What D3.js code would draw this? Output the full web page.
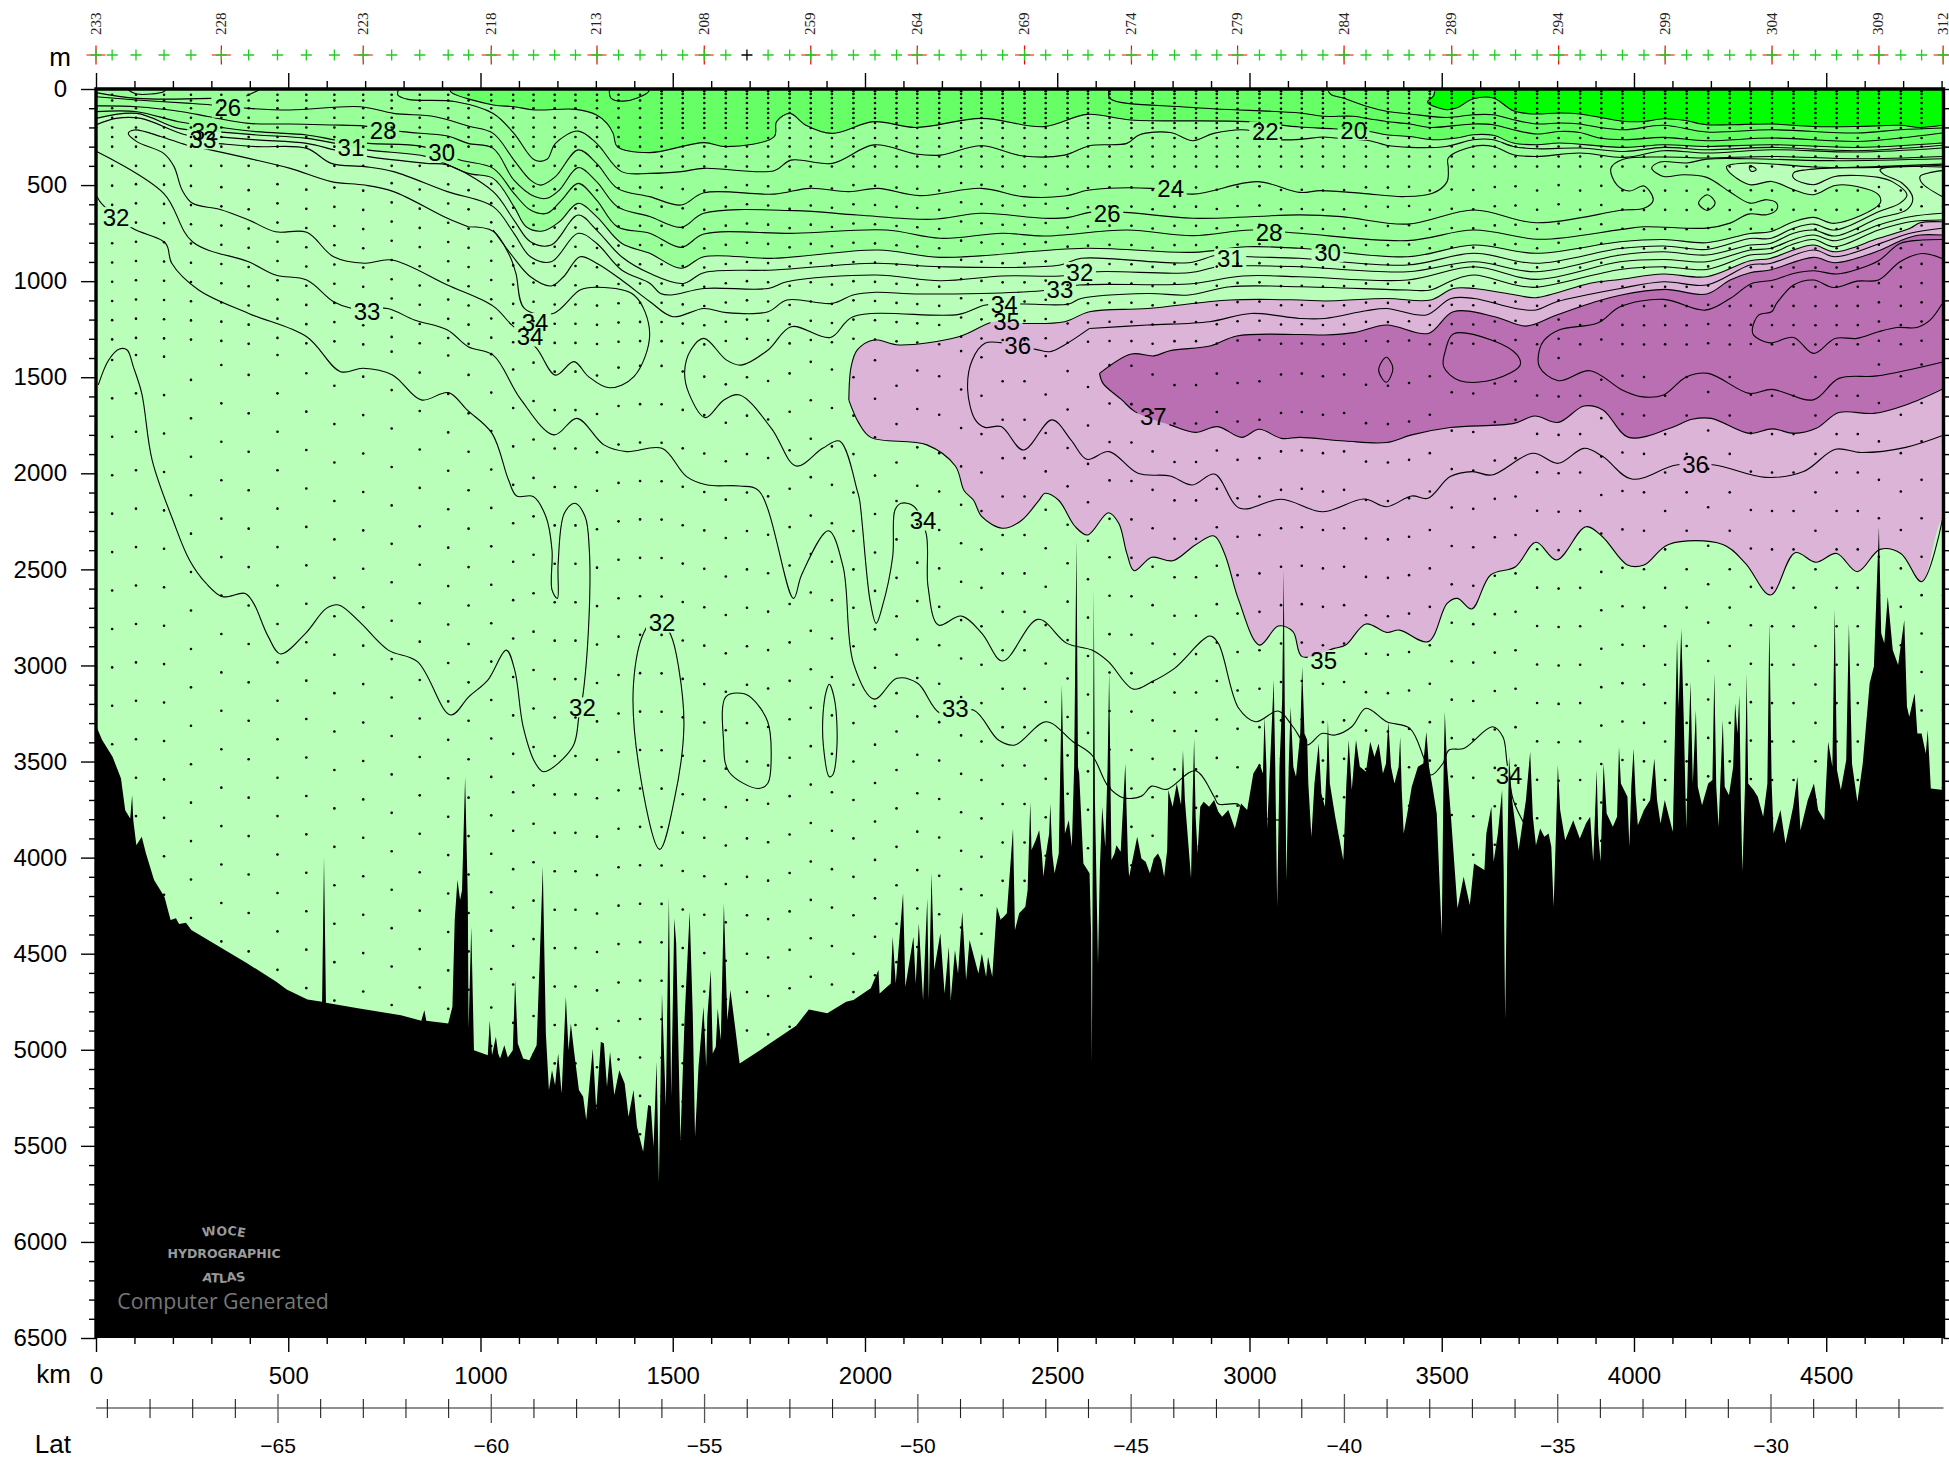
<!DOCTYPE html>
<html lang="en">
<head>
<meta charset="UTF-8">
<title>WOCE section</title>
<script src="https://d3js.org/d3.v7.min.js"></script>
<style>
    html, body { margin: 0; padding: 0; background: #fff; }
    svg { display: block; font-family: "Liberation Sans", Arial, sans-serif; }
    .contour { fill: none; stroke: #000; stroke-width: 1.1; stroke-linejoin: round; }
    .axis path, .axis line { stroke: #000; }
    .axis text { font-size: 24px; font-family: "Liberation Sans", Arial, sans-serif; fill: #000; }
    .clabel { font-size: 24px; text-anchor: middle; fill: #000; }
</style>
</head>
<body>
<svg width="1949" height="1458"></svg>
<script>
// ---- stations along the section (km) ----
var stationKm = [0,42,104,177,247,326,397,472,547,620,695,769,842,916,969,1028,1085,1138,1193,1247,1303,1359,1415,
    1471,1526,1582,1638,1693,1748,1804,1859,1914,1970,2026,2082,2136,2193,2250,2303,2358,2415,2470,2527,2580,2636,2693,2748,2805,2861,2915,2969,3026,3082,
    3136,3191,3246,3303,3360,3415,3469,3526,3582,3638,3692,3748,3804,3860,3915,3970,4026,4081,4137,4193,4249,4304,4359,4415,4472,4527,4582,4637,4694,4748,4804];
var stationNames = ['233','228','223','218','213','208','259','264','269','274','279','284','289','294','299','304','309','312'];
var namedStations = [0,5,10,15,20,25,30,35,40,45,50,55,60,65,70,75,80,83];
var blackStation = 27;

// sample depths of each cast
var castOffset = [10,10,-16,-7,114,36,88,-16,79,144,97,-33,76,-13,88,-20,60,24,71,71,91,50,40,
    41,70,97,137,100,120,80,20,60,100,12,144,65,95,-36,-4,121,121,-10,68,151,37,40,86,141,141,81,130,121,86,
    81,95,86,139,144,130,95,178,185,133,121,195,0,196,113,92,99,196,99,177,99,191,196,196,99,196,196,34,95,34,34];
var shallowSouth = [30,60,100,150,200,250,300,400];
var shallowNorth = [12,26,47,73,103,125,151,177,203,255,299,351,403];
var midLevels = [500,600,700,800,900,1000,1100,1200,1300];
var deepLevels = [1400,1600,1800,2000,2200,2400,2600,2800,3000,3200,3400,3600,3800,4000,4200,4400,4600,4800,5000,5200,5400];

// ---- filled regions: [km, depth] ----
var brightGreen = [[3482,12],[3478,38],[3463,68],[3512,108],[3538,99],[3582,51],[3634,47],[3686,113],[3738,130],[3807,125],[3859,130],[3976,169],[4025,169],[4077,155],[4129,163],[4189,186],[4250,186],[4358,182],[4467,195],[4580,195],[4692,189],[4744,200],[4801,189]];
var lavenderTop = [[1958,1619],[1964,1445],[1980,1358],[2023,1306],[2088,1332],[2244,1289],[2336,1211],[2417,1220],[2519,1211],[2584,1159],[2735,1142],[2950,1098],[3131,1098],[3196,1103],[3357,1090],[3471,1098],[3530,1038],[3584,1038],[3692,1072],[3745,1086],[3886,1011],[3964,991],[4077,963],[4189,977],[4302,894],[4354,882],[4415,838],[4467,812],[4523,847],[4636,777],[4718,725],[4744,696],[4801,691]];
var lavenderBottom = [[1958,1619],[1983,1735],[2015,1813],[2161,1852],[2235,1962],[2258,2091],[2282,2139],[2304,2226],[2358,2286],[2406,2247],[2453,2139],[2468,2104],[2503,2139],[2547,2278],[2579,2321],[2633,2205],[2660,2260],[2681,2417],[2700,2507],[2746,2437],[2800,2455],[2859,2373],[2908,2326],[2935,2417],[2972,2660],[3026,2894],[3075,2795],[3113,2824],[3137,2954],[3220,2911],[3250,2894],[3303,2784],[3357,2828],[3390,2816],[3465,2876],[3514,2677],[3541,2651],[3578,2706],[3627,2529],[3692,2486],[3745,2359],[3799,2451],[3875,2278],[3918,2330],[3983,2477],[4026,2477],[4090,2370],[4231,2370],[4290,2469],[4355,2633],[4419,2413],[4473,2463],[4527,2417],[4581,2512],[4640,2396],[4694,2417],[4748,2564],[4802,2243]];
var purpleTop = [[2610,1480],[2693,1379],[2751,1389],[2793,1362],[2900,1336],[2967,1285],[3132,1278],[3196,1280],[3271,1268],[3357,1228],[3465,1272],[3530,1159],[3638,1185],[3719,1234],[3799,1176],[3886,1116],[3964,1073],[4081,1043],[4189,1067],[4250,994],[4302,956],[4354,942],[4467,876],[4523,904],[4636,842],[4701,783],[4744,760],[4801,760]];
var purpleBottom = [[2610,1480],[2619,1532],[2668,1618],[2702,1679],[2793,1748],[2859,1787],[2917,1757],[2980,1813],[3025,1771],[3083,1818],[3132,1813],[3248,1832],[3356,1840],[3422,1800],[3522,1762],[3687,1740],[3742,1702],[3803,1735],[3870,1650],[3919,1670],[3986,1813],[4093,1766],[4151,1719],[4201,1714],[4300,1792],[4359,1769],[4417,1792],[4474,1766],[4533,1684],[4624,1688],[4707,1644],[4806,1558]];

// ---- contour lines: [km, depth] ----
var contourZ1 = [[3205,12],[3213,30],[3244,47],[3304,90],[3356,116],[3417,130],[3512,148],[3582,134],[3634,134],[3686,160],[3747,182],[3807,177],[3859,182],[3911,200],[3976,212],[4077,189],[4189,224],[4358,212],[4580,229],[4692,212],[4801,203]];
var contourZ2 = [[2635,5],[2637,49],[2842,95],[3131,125],[3192,142],[3270,142],[3313,156],[3356,169],[3417,182],[3469,200],[3582,182],[3634,186],[3686,212],[3747,234],[3807,221],[3859,226],[3911,255],[3976,264],[4077,252],[4189,269],[4358,255],[4580,273],[4692,255],[4801,229]];
var contourA = [[920,2],[925,19],[1033,83],[1087,92],[1141,109],[1248,106],[1302,135],[1329,179],[1345,231],[1356,300],[1440,331],[1581,279],[1640,300],[1764,248],[1770,170],[1805,127],[1845,187],[1915,231],[2023,170],[2131,200],[2303,153],[2465,196],[2578,132],[2691,161],[2993,170],[3131,198],[3218,207],[3313,221],[3356,238],[3417,247],[3478,264],[3538,255],[3582,238],[3634,241],[3686,281],[3747,290],[3807,281],[3976,304],[4077,290],[4189,299],[4358,290],[4580,304],[4801,281]];
var contourB = [[787,2],[785,31],[812,54],[936,66],[1033,127],[1087,231],[1141,370],[1173,366],[1195,283],[1254,219],[1302,283],[1367,430],[1440,439],[1522,430],[1581,413],[1764,425],[1807,370],[1915,387],[2023,291],[2131,338],[2196,344],[2303,295],[2411,349],[2519,344],[2584,295],[2681,283],[2713,239],[2794,226],[2853,269],[2907,231],[2993,213],[3074,262],[3131,262],[3192,250],[3222,255],[3313,269],[3356,293],[3417,304],[3512,299],[3582,264],[3634,264],[3686,299],[3747,311],[3859,307],[3976,325],[4077,304],[4189,316],[4358,304],[4580,321],[4801,293]];
var contourC = [[0,40],[106,57],[246,75],[300,83],[397,101],[505,109],[688,92],[774,127],[882,144],[968,193],[1033,231],[1087,370],[1130,474],[1157,500],[1195,456],[1254,317],[1302,387],[1356,517],[1440,560],[1522,604],[1581,540],[1764,547],[1856,517],[1958,534],[2034,517],[2142,555],[2303,517],[2411,560],[2519,557],[2584,526],[2745,517],[2853,547],[3020,482],[3131,538],[3185,529],[3293,543],[3400,560],[3476,543],[3514,482],[3517,411],[3517,359],[3582,299],[3634,299],[3686,342],[3747,351],[3859,333],[3976,356],[4077,321],[4189,333],[4358,316],[4580,328],[4801,307]];
var contourD = [[0,88],[106,92],[224,118],[294,144],[397,179],[505,182],[612,187],[699,193],[796,222],[914,245],[968,283],[1033,309],[1087,474],[1141,560],[1173,569],[1205,526],[1254,409],[1302,482],[1356,612],[1440,664],[1522,720],[1581,647],[1818,633],[1980,656],[2174,678],[2303,647],[2465,673],[2530,668],[2584,642],[2675,642],[2853,673],[3131,655],[3239,664],[3411,703],[3584,630],[3745,696],[3972,630],[4026,621],[4050,578],[4026,505],[3988,531],[3956,500],[3940,413],[3972,366],[4077,354],[4189,359],[4358,351],[4580,363],[4801,351]];
var contourE = [[0,118],[106,118],[214,170],[311,196],[418,222],[548,239],[623,265],[709,283],[850,300],[947,370],[1033,413],[1087,543],[1130,630],[1173,647],[1211,578],[1254,491],[1302,578],[1356,717],[1440,751],[1522,824],[1581,755],[1818,751],[2055,734],[2196,777],[2357,751],[2465,765],[2681,734],[2853,763],[3004,734],[3131,751],[3411,789],[3584,734],[3756,782],[3964,732],[4026,717],[4189,724],[4250,698],[4298,651],[4345,654],[4371,628],[4371,594],[4345,576],[4302,594],[4250,536],[4189,460],[4129,446],[4077,455],[4046,411],[4068,380],[4137,385],[4189,365],[4302,363],[4519,373],[4801,363]];
var contourF = [[0,153],[106,127],[214,205],[311,222],[418,239],[548,257],[623,283],[709,318],[860,352],[968,439],[1033,465],[1087,612],[1119,717],[1162,739],[1205,691],[1254,595],[1302,664],[1367,803],[1440,855],[1522,933],[1581,873],[1764,881],[2034,838],[2196,876],[2573,829],[2853,850],[2993,821],[3131,829],[3411,873],[3584,812],[3745,855],[3964,795],[4077,783],[4189,800],[4302,752],[4354,743],[4415,691],[4467,668],[4523,699],[4640,595],[4636,550],[4580,507],[4523,502],[4467,550],[4415,524],[4358,481],[4302,498],[4246,429],[4241,403],[4302,385],[4467,406],[4632,408],[4801,397]];
var contourG = [[0,187],[52,153],[117,153],[235,239],[311,248],[418,265],[548,283],[623,318],[709,352],[860,387],[914,396],[1033,534],[1087,682],[1130,795],[1184,812],[1254,656],[1302,734],[1367,873],[1440,959],[1527,1012],[1581,956],[1764,942],[2028,907],[2196,925],[2508,916],[2562,881],[2842,904],[2918,864],[3004,873],[3131,881],[3411,916],[3584,855],[3745,907],[3964,830],[4077,817],[4189,835],[4302,778],[4354,778],[4415,725],[4467,703],[4523,734],[4636,639],[4692,594],[4710,550],[4675,486],[4636,460],[4523,455],[4467,498],[4415,463],[4415,437],[4450,420],[4632,404],[4801,391]];
var contourH = [[257,274],[311,283],[418,300],[548,309],[612,387],[699,404],[774,430],[914,534],[1033,612],[1087,751],[1130,873],[1184,899],[1254,751],[1302,803],[1367,942],[1441,1012],[1468,1064],[1495,1072],[1581,1038],[1748,1038],[1797,1003],[2028,968],[2196,998],[2357,973],[2508,973],[2605,951],[2842,956],[2918,925],[3004,920],[3131,925],[3411,951],[3584,899],[3745,951],[3964,864],[4077,847],[4189,864],[4302,812],[4354,804],[4415,751],[4467,734],[4523,765],[4636,673],[4710,628],[4725,568],[4697,489],[4649,443],[4640,420],[4666,406],[4801,406]];
var contourCrest = [[1033,734],[1081,864],[1130,977],[1184,1025],[1216,977],[1259,873],[1302,907],[1367,994],[1441,1107],[1500,1185],[1581,1142],[1640,1164],[1748,1159],[1797,1098],[1915,1116],[1969,1072],[2028,1058],[2142,1067],[2460,1050],[2557,1020],[2842,1015],[2983,973],[3131,977],[3411,994],[3584,925],[3745,991],[3964,899],[4077,887],[4189,899],[4302,838],[4354,830],[4415,783],[4467,760],[4523,790],[4636,708],[4718,665],[4801,647]];
// runs back along the slope, round the tip near the ice edge and through the loop at 1200 km
var contourTip = [[968,717],[1033,740],[1075,864],[1092,959],[1114,1142],[1189,1168],[1259,1046],[1302,1032],[1399,1072],[1440,1272],[1399,1497],[1335,1555],[1281,1497],[1243,1419],[1195,1489],[1146,1350],[1081,1228],[1033,1130],[914,1020],[769,890],[699,907],[618,873],[548,746],[467,743],[397,682],[321,626],[251,595],[224,526],[203,404],[176,335],[106,274],[84,231],[100,213],[170,248],[235,291],[300,318],[397,361],[505,413],[612,482],[699,500],[774,534],[914,673],[968,717]];
var contourMain = [[3,326],[176,543],[251,795],[397,899],[467,968],[548,994],[618,1107],[666,1142],[758,1142],[828,1202],[914,1254],[968,1341],[1033,1385],[1103,1610],[1191,1800],[1251,1714],[1321,1852],[1380,1887],[1472,1870],[1536,2017],[1590,2061],[1674,2066],[1724,2091],[1814,2651],[1835,2529],[1905,2299],[1943,2486],[1970,2989],[2024,3175],[2083,3067],[2137,3093],[2196,3249],[2282,3232],[2347,3388],[2390,3414],[2471,3293],[2541,3397],[2590,3466],[2633,3631],[2671,3688],[2719,3680],[2746,3628],[2784,3645],[2859,3548],[2908,3683],[2919,3721],[2972,3723],[2983,3770],[3080,3805]];
var contourBump = [[6,1540],[33,1410],[61,1353],[81,1358],[97,1445],[119,1584],[146,1931],[200,2243],[243,2451],[286,2572],[329,2642],[388,2625],[410,2677],[448,2850],[480,2940],[545,2833],[599,2703],[631,2685],[685,2772],[760,2920],[836,2980],[922,3258],[970,3162],[1019,3076],[1067,2920],[1089,3024],[1111,3319],[1143,3509],[1164,3553],[1240,3423],[1256,3267],[1267,3145],[1283,2711],[1283,2399],[1272,2225],[1245,2156],[1218,2208],[1202,2468],[1200,2651],[1186,2607],[1186,2399],[1170,2225],[1137,2121],[1094,2118],[1073,2035],[1030,1792],[965,1670],[917,1580],[846,1618],[771,1488],[695,1453],[636,1471],[548,1289],[397,1168],[267,1046],[197,907],[181,803],[95,725],[14,595],[3,560]];
var contourLong = [[3719,3839],[3686,3700],[3670,3510],[3659,3371],[3632,3319],[3557,3432],[3519,3440],[3503,3510],[3471,3570],[3454,3484],[3417,3327],[3357,3293],[3303,3223],[3266,3319],[3223,3362],[3188,3354],[3150,3414],[3113,3319],[3075,3237],[3016,3293],[2972,3223],[2919,2885],[2897,2847],[2805,3015],[2746,3085],[2698,3123],[2633,2980],[2590,2920],[2525,2885],[2450,2760],[2358,2977],[2304,2833],[2250,2743],[2191,2790],[2164,2590],[2159,2313],[2126,2170],[2094,2156],[2078,2191],[2072,2434],[2045,2694],[2029,2781],[2013,2660],[1986,2139],[1980,2091],[1934,1832],[1890,1870],[1821,1962],[1757,1767],[1674,1592],[1633,1618],[1585,1710],[1542,1584],[1531,1471],[1547,1358],[1581,1298],[1640,1411],[1678,1437],[1748,1358],[1808,1237],[1910,1293],[1969,1185],[2244,1173],[2314,1124],[2411,1119],[2530,1119],[2562,1090],[2735,1064],[2842,1072],[2950,1029],[3131,1029],[3411,1046],[3471,1046],[3530,994],[3584,968],[3692,1020],[3745,1032],[3964,939],[4077,925],[4189,939],[4302,864],[4354,856],[4415,807],[4467,783],[4523,821],[4636,734],[4718,691],[4801,682]];
var contour36 = [[2584,1246],[2519,1332],[2481,1367],[2444,1355],[2352,1320],[2312,1323],[2279,1410],[2267,1566],[2287,1722],[2312,1761],[2354,1757],[2412,1879],[2486,1722],[2536,1827],[2577,1927],[2635,1887],[2710,2000],[2793,2014],[2851,2061],[2909,2004],[2975,2182],[3083,2135],[3190,2200],[3298,2134],[3356,2174],[3422,2118],[3464,2130],[3522,2017],[3580,1991],[3630,2009],[3737,1896],[3803,1948],[3870,1870],[3919,1913],[3994,2030],[4110,1957],[4210,1957],[4342,2021],[4441,1991],[4524,1875],[4591,1892],[4707,1865],[4806,1801]];
var contour35Upper = [[2584,1246],[2735,1228],[2896,1211],[3004,1168],[3131,1194],[3196,1194],[3303,1154],[3357,1142],[3460,1176],[3524,1090],[3584,1090],[3692,1142],[3745,1150],[3799,1107],[3964,1038],[4077,1003],[4189,1020],[4302,916],[4354,908],[4467,838],[4523,873],[4636,807],[4718,751],[4801,725]];
var contourInner = [[4806,1419],[4632,1493],[4533,1506],[4466,1618],[4359,1563],[4300,1584],[4193,1480],[4135,1500],[4077,1592],[4019,1601],[3969,1566],[3886,1466],[3803,1518],[3754,1445],[3754,1358],[3767,1306],[3805,1254],[3907,1216],[3964,1133],[4077,1095],[4185,1151],[4250,1090],[4306,1012],[4363,994],[4415,960],[4467,946],[4528,963],[4588,934],[4636,894],[4692,804],[4749,786],[4801,783]];
var contourCore = [[4801,882],[4749,856],[4692,899],[4636,994],[4580,1000],[4519,1033],[4467,994],[4415,1020],[4371,1116],[4358,1159],[4324,1177],[4308,1246],[4311,1281],[4354,1321],[4415,1293],[4467,1376],[4523,1298],[4580,1298],[4636,1263],[4684,1241],[4736,1241],[4770,1203],[4801,1119]];
var contourRightCurl = [[4801,559],[4749,489],[4744,455],[4766,437],[4801,425]];
var contourTopA = [[0,19],[106,49],[300,49]];
var contourTopB = [[84,5],[106,26],[176,14],[183,0]];
var contourTopC = [[391,36],[424,5]];
var contourTopD = [[1335,5],[1340,49],[1378,62],[1432,23],[1440,5]];
var openContours = [contourZ1,contourZ2,contourA,contourB,contourC,contourD,contourE,contourF,contourG,contourH,contourCrest,contourTip,contourMain,contourBump,contourLong,contour36,contour35Upper,contourInner,contourCore,contourRightCurl,contourTopA,contourTopB,contourTopC,contourTopD,brightGreen,lavenderTop,lavenderBottom,purpleTop,purpleBottom];

// closed contours
var loopOval = [[1461,2746],[1495,2841],[1515,3006],[1529,3319],[1504,3700],[1466,3957],[1412,3527],[1398,3093],[1426,2824]];
var loopBlob = [[1638,3163],[1679,3145],[1706,3171],[1747,3293],[1756,3475],[1747,3614],[1722,3640],[1646,3553],[1632,3388]];
var loopThin = [[1907,3098],[1921,3180],[1927,3423],[1916,3570],[1907,3579],[1892,3423],[1891,3249],[1900,3128]];
var loopCoreA = [[3356,1396],[3373,1454],[3356,1526],[3336,1462]];
var loopCoreB = [[3530,1275],[3629,1306],[3696,1384],[3704,1436],[3638,1511],[3547,1518],[3505,1445],[3510,1358]];
var loopSmallA = [[4191,550],[4211,594],[4191,632],[4168,594]];
var loopSmallB = [[4302,398],[4318,420],[4306,429],[4300,411]];
var closedContours = [loopOval,loopBlob,loopThin,loopCoreA,loopCoreB,loopSmallA,loopSmallB];

// ---- contour labels: [text, km, depth] ----
var contourLabels = [['26',343,97],['28',747,214],['31',663,304],['30',899,330],['22',3041,220],['20',3271,214],['24',2795,518],['26',2630,647],['28',3051,744],['30',3203,848],
    ['32',284,222],['33',278,262],['32',52,667],['33',705,1159],['34',1129,1288],['34',1142,1217],['31',2950,880],['32',2559,952],['33',2507,1042],['34',2362,1120],['35',2368,1211],['34',2151,2246],['32',1472,2777],['32',1265,3218],['33',2235,3224],['35',3193,2972],
    ['36',2397,1334],['37',2750,1703],['36',4160,1955],['34',3675,3574]];

// ---- sea floor: [km, depth] ----
var bathymetry = [[0,3320],[3,3327],[16,3388],[43,3475],[65,3588],[76,3753],[89,3796],[94,3674],[97,3805],[105,3935],[119,3891],[130,3978],[151,4117],[178,4204],[194,4325],[208,4316],[216,4346],[234,4339],[248,4377],[394,4551],[469,4646],[496,4686],[550,4738],[588,4750],[593,3995],[598,4755],[685,4785],[793,4820],[846,4849],[854,4794],[859,4849],[916,4863],[927,4776],[933,4325],[940,4117],[947,4221],[952,4169],[960,3579],[967,4221],[969,4889],[976,4360],[983,5002],[1019,5028],[1024,4846],[1030,5028],[1040,4932],[1046,5019],[1051,5045],[1062,4976],[1071,5040],[1084,5002],[1090,4637],[1097,4967],[1111,5045],[1127,5054],[1146,4976],[1154,4533],[1162,4047],[1170,4915],[1178,5210],[1186,5106],[1194,5184],[1202,5019],[1211,5227],[1222,4724],[1229,5002],[1235,4863],[1243,5002],[1256,5210],[1267,5245],[1275,5366],[1292,4993],[1301,5314],[1313,4958],[1321,4967],[1329,5193],[1337,5010],[1348,5236],[1361,5106],[1375,5175],[1385,5349],[1398,5210],[1407,5401],[1423,5531],[1436,5288],[1443,5293],[1450,5505],[1458,5062],[1464,5687],[1472,4707],[1482,5297],[1490,4204],[1496,5245],[1504,4316],[1509,4447],[1520,5470],[1531,4828],[1544,4282],[1552,4811],[1558,5453],[1567,5088],[1580,4776],[1587,5088],[1590,4828],[1599,4585],[1604,5019],[1612,4984],[1617,4785],[1625,4950],[1633,4238],[1642,4846],[1650,4689],[1660,4846],[1674,5071],[1725,5005],[1821,4875],[1854,4790],[1902,4810],[1951,4750],[1970,4741],[2015,4680],[2035,4585],[2038,4707],[2067,4655],[2072,4412],[2080,4655],[2099,4186],[2105,4672],[2126,4412],[2132,4655],[2140,4342],[2151,4741],[2162,4212],[2166,4741],[2173,4082],[2180,4585],[2196,4394],[2207,4707],[2218,4464],[2223,4741],[2234,4481],[2242,4603],[2253,4282],[2263,4637],[2272,4429],[2295,4603],[2304,4499],[2315,4620],[2320,4516],[2331,4620],[2339,4377],[2343,4256],[2353,4325],[2369,4290],[2385,3848],[2390,4377],[2401,4290],[2417,4256],
    [2423,4169],[2426,3961],[2430,3709],[2433,3961],[2444,3909],[2453,3857],[2460,3978],[2464,4100],[2471,3978],[2479,3874],[2482,3718],[2487,3978],[2493,4082],[2504,3978],[2508,3527],[2512,3102],[2516,3527],[2520,3874],[2530,3805],[2538,3943],[2544,3527],[2550,2347],[2554,3527],[2557,3562],[2568,4030],[2584,4082],[2588,4394],[2590,5070],[2593,3700],[2595,2599],[2598,3700],[2606,4551],[2611,4047],[2617,3735],[2625,3943],[2631,3527],[2635,3033],[2638,3527],[2641,4012],
    [2649,3978],[2654,3935],[2665,3969],[2677,3510],[2684,4013],[2687,4100],[2694,4030],[2708,3891],[2719,4004],[2730,4021],[2741,4082],[2751,4004],[2762,3978],[2770,4013],[2778,4100],[2786,3961],[2789,3648],[2800,3735],[2811,3614],[2822,3726],[2827,3440],[2832,3700],[2848,4108],[2852,3700],[2856,3380],[2860,3787],[2865,3978],[2872,3735],[2881,3709],[2895,3735],[2908,3700],[2919,3761],[2929,3787],[2945,3752],[2962,3848],[2978,3718],[2994,3752],[3010,3562],[3026,3510],[3035,3562],[3039,3267],[3044,3527],[3046,3848],[3054,3492],[3063,3076],[3067,3527],[3072,4256],[3078,3527],[3085,3180],[3089,2503],[3093,3527],[3096,4117],[3102,3527],[3107,3215],[3114,3527],[3121,3579],[3132,3354],[3137,3006],[3143,3354],[3150,3388],
    [3153,3614],[3161,3891],[3169,3614],[3180,3406],[3187,3666],[3196,3735],[3201,3527],[3204,3284],[3209,3614],[3223,3787],[3244,4013],[3252,3614],[3258,3388],[3266,3648],[3271,3527],[3277,3388],[3287,3527],[3303,3553],[3314,3397],[3325,3475],[3336,3406],[3347,3562],[3355,3510],[3361,3293],[3368,3527],[3377,3614],[3388,3527],[3392,3371],[3396,3648],[3401,3874],[3409,3787],[3422,3631],[3438,3527],[3452,3510],[3460,3345],[3467,3527],[3476,3631],[3487,3770],[3500,4403],[3505,3527],[3508,3241],[3514,3527],[3524,3787],[3541,4264],[3557,4100],[3573,4247],[3584,4030],[3611,4065],[3616,3874],[3629,3735],[3635,4021],[3646,3874],[3657,3648],[3661,4047],[3665,4842],[3670,4047],[3675,3475],[3683,3700],[3692,3839],
    [3700,3961],[3719,3700],[3730,3449],[3737,3787],[3745,3935],[3756,3848],[3767,3891],[3778,3874],[3785,3943],[3791,4256],[3797,3874],[3802,3518],[3808,3752],[3821,3909],[3842,3805],[3859,3900],[3875,3822],[3886,3787],[3894,4021],[3903,3544],[3907,3874],[3913,4021],[3921,3510],[3929,3770],[3945,3839],[3956,3787],[3961,3423],[3966,3614],[3983,3683],[3988,3943],[3993,3631],[3999,3432],[4004,3666],[4010,3831],[4026,3752],[4042,3700],[4053,3484],[4060,3700],[4069,3822],
    [4080,3700],[4101,3865],[4108,3232],[4112,2859],[4116,3223],[4123,2807],[4129,3249],[4136,3848],[4140,3527],[4147,3085],[4153,3614],[4161,3232],[4166,3631],[4177,3727],[4193,3614],[4204,3596],[4209,3041],[4214,3631],[4220,3839],[4231,3284],[4236,3631],[4247,3675],[4258,3527],[4263,3197],[4269,3354],[4274,3154],[4278,3700],[4282,4074],[4289,3614],[4293,3041],[4297,3614],[4311,3648],[4322,3683],[4336,3787],[4347,3614],[4352,2772],[4358,3614],[4363,3874],[4381,3752],[4394,3926],[4414,3735],[4425,3579],[4433,3857],[4452,3700],[4468,3614],[4479,3752],[4495,3805],[4505,3397],[4516,3527],[4522,2703],[4528,3544],[4538,3648],[4552,3492],[4559,2781],[4567,3510],[4581,3709],[4595,3510],[4613,3093],[4624,3006],[4637,2278],[4643,2833],[4651,2885],[4660,2642],[4673,2920],[4687,2998],[4703,2764],[4710,3215],[4716,3267],[4730,3145],[4737,3354],[4748,3354],[4759,3458],[4764,3336],[4772,3640],[4805,3648]];

// ---- axes ----
var kmMajor = [0,500,1000,1500,2000,2500,3000,3500,4000,4500];
var kmMinor = [100,200,300,400,600,700,800,900,1100,1200,1300,1400,1600,1700,1800,1900,2100,2200,2300,2400,2600,2700,2800,2900,3100,3200,3300,3400,3600,3700,3800,3900,4100,4200,4300,4400,4600,4700,4800];
var depthMajor = [0,500,1000,1500,2000,2500,3000,3500,4000,4500,5000,5500,6000,6500];
var depthMinor = [100,200,300,400,600,700,800,900,1100,1200,1300,1400,1600,1700,1800,1900,2100,2200,2300,2400,2600,2700,2800,2900,3100,3200,3300,3400,3600,3700,3800,3900,4100,4200,4300,4400,4600,4700,4800,4900,5100,5200,5300,5400,5600,5700,5800,5900,6100,6200,6300,6400];
var latMajor = [-65,-60,-55,-50,-45,-40,-35,-30];
var latMinor = [-69,-68,-67,-66,-64,-63,-62,-61,-59,-58,-57,-56,-54,-53,-52,-51,-49,-48,-47,-46,-44,-43,-42,-41,-39,-38,-37,-36,-34,-33,-32,-31,-29,-28,-27];

var svg = d3.select('svg');

var x = d3.scaleLinear().domain([0, 4805]).range([96, 1943.5]);
var y = d3.scaleLinear().domain([0, 6500]).range([89, 1338]);
var lat = d3.scaleLinear().domain([-65, -30]).range([278, 1771]);

var defs = svg.append('defs');
defs.append('clipPath').attr('id', 'plot')
    .append('rect')
    .attr('x', x(0)).attr('y', y(0))
    .attr('width', x(4805) - x(0)).attr('height', y(6500) - y(0));

// the contour lines break around their labels
var gapMask = defs.append('mask').attr('id', 'labelGaps')
    .attr('maskUnits', 'userSpaceOnUse')
    .attr('x', 0).attr('y', 0).attr('width', 1949).attr('height', 1458);
gapMask.append('rect').attr('width', 1949).attr('height', 1458).attr('fill', '#fff');
gapMask.selectAll('rect.gap').data(contourLabels).enter().append('rect')
    .attr('class', 'gap')
    .attr('x', function (d) { return x(d[1]) - 16; })
    .attr('y', function (d) { return y(d[2]) - 10; })
    .attr('width', 32).attr('height', 20)
    .attr('fill', '#000');

var curve = d3.curveCatmullRom.alpha(0.5);
var line = d3.line().x(function (d) { return x(d[0]); }).y(function (d) { return y(d[1]); }).curve(curve);
var loop = d3.line().x(function (d) { return x(d[0]); }).y(function (d) { return y(d[1]); }).curve(d3.curveCatmullRomClosed.alpha(0.5));

var g = svg.append('g').attr('clip-path', 'url(#plot)');

// background and filled bands
g.append('rect').attr('x', x(0)).attr('y', y(0))
    .attr('width', x(4805) - x(0)).attr('height', y(6500) - y(0))
    .attr('fill', '#b9ffb9');

var right = 4830, top0 = -60;

function band(points, color) {
    g.append('path').attr('d', line(points)).attr('fill', color).attr('stroke', 'none');
}

band([[0, top0], [-30, top0], [-30, 153]].concat(contourF).concat([[right, 397], [right, top0]]), '#99ff99');
band(contourA.concat([[right, 281], [right, top0], [920, top0]]), '#66ff66');
band(brightGreen.concat([[right, 189], [right, top0], [3482, top0]]), '#00ff00');
band(lavenderTop.concat([[right, 691], [right, 2243]]).concat(lavenderBottom.slice().reverse()), '#dbb4d8');
band(purpleTop.concat([[right, 760], [right, 1558]]).concat(purpleBottom.slice().reverse()), '#b96fb1');

// contour lines
var lines = g.append('g').attr('mask', 'url(#labelGaps)');
lines.selectAll('path.contour.open').data(openContours).enter().append('path')
    .attr('class', 'contour open').attr('d', line);
lines.selectAll('path.contour.closed').data(closedContours).enter().append('path')
    .attr('class', 'contour closed').attr('d', loop);

// sample dots
var samples = [];
stationKm.forEach(function (km, i) {
    var shallow = i < 23 ? shallowSouth : shallowNorth;
    shallow.forEach(function (d) { samples.push([km, d]); });
    midLevels.forEach(function (d) { samples.push([km, d + (castOffset[i] % 100) * 0.3]); });
    deepLevels.forEach(function (d) { samples.push([km, d + castOffset[i]]); });
});
g.selectAll('circle.sample').data(samples).enter().append('circle')
    .attr('class', 'sample')
    .attr('cx', function (d) { return x(d[0]); })
    .attr('cy', function (d) { return y(d[1]); })
    .attr('r', 1.3).attr('fill', '#000');

// sea floor
var floor = d3.area()
    .x(function (d) { return x(d[0]); })
    .y0(y(6500) + 5)
    .y1(function (d) { return y(d[1]); });
g.append('path').attr('d', floor(bathymetry)).attr('fill', '#000');

// contour labels
svg.selectAll('text.clabel').data(contourLabels).enter().append('text')
    .attr('class', 'clabel')
    .attr('x', function (d) { return x(d[1]); })
    .attr('y', function (d) { return y(d[2]); })
    .attr('dy', '0.36em')
    .text(function (d) { return d[0]; });

// depth axis
var leftMinor = d3.axisLeft(y).tickValues(depthMinor).tickSize(7).tickFormat('');
var leftMajor = d3.axisLeft(y).tickValues(depthMajor).tickSize(15).tickPadding(14).tickFormat(d3.format('d'));
var rightMinor = d3.axisRight(y).tickValues(depthMinor.concat(depthMajor)).tickSize(6).tickFormat('');
var topMinor = d3.axisTop(x).tickValues(kmMinor).tickSize(8).tickFormat('');
var topMajor = d3.axisTop(x).tickValues(kmMajor).tickSize(16).tickFormat('');
var bottomMinor = d3.axisBottom(x).tickValues(kmMinor).tickSize(6).tickFormat('');
var bottomMajor = d3.axisBottom(x).tickValues(kmMajor).tickSize(14).tickPadding(15).tickFormat(d3.format('d'));

function addAxis(axis, tx, ty) {
    var a = svg.append('g').attr('class', 'axis')
        .attr('transform', 'translate(' + tx + ',' + ty + ')')
        .call(axis);
    a.select('.domain').remove();
    a.selectAll('line').attr('stroke-width', 1.4);
    return a;
}
addAxis(leftMinor, x(0), 0);
addAxis(leftMajor, x(0), 0);
addAxis(rightMinor, x(4805), 0);
addAxis(topMinor, 0, y(0));
addAxis(topMajor, 0, y(0));
addAxis(bottomMinor, 0, y(6500));
addAxis(bottomMajor, 0, y(6500));

svg.append('path')
    .attr('d', 'M' + x(0) + ',' + y(6500) + 'V' + y(0) + 'H' + x(4805) + 'V' + y(6500))
    .attr('fill', 'none').attr('stroke', '#000').attr('stroke-width', 3.4);

// latitude axis
var latG = svg.append('g').attr('class', 'lat');
var latY = 1408;
latG.append('line').attr('x1', x(0)).attr('x2', x(4805)).attr('y1', latY).attr('y2', latY)
    .attr('stroke', '#222').attr('stroke-width', 1.1);
latG.selectAll('line.minor').data(latMinor).enter().append('line')
    .attr('class', 'minor')
    .attr('x1', lat).attr('x2', lat)
    .attr('y1', latY - 9).attr('y2', latY + 10)
    .attr('stroke', '#222').attr('stroke-width', 1.1);
latG.selectAll('line.major').data(latMajor).enter().append('line')
    .attr('class', 'major')
    .attr('x1', lat).attr('x2', lat)
    .attr('y1', latY - 14).attr('y2', latY + 15)
    .attr('stroke', '#555').attr('stroke-width', 1.3);
latG.selectAll('text').data(latMajor).enter().append('text')
    .attr('x', lat).attr('y', 1453)
    .attr('text-anchor', 'middle').attr('font-size', 21)
    .text(function (d) { return '\u2212' + Math.abs(d); });

// axis names
svg.append('text').attr('x', 71).attr('y', 66).attr('text-anchor', 'end').attr('font-size', 26).text('m');
svg.append('text').attr('x', 71).attr('y', 1383).attr('text-anchor', 'end').attr('font-size', 26).text('km');
svg.append('text').attr('x', 71).attr('y', 1453).attr('text-anchor', 'end').attr('font-size', 26).text('Lat');

// station marks
var markY = 55;
var marks = svg.append('g').attr('class', 'stations');
stationKm.forEach(function (km, i) {
    var named = namedStations.indexOf(i) >= 0;
    var px = x(km);
    if (named) {
        marks.append('path').attr('d', 'M' + (px - 9.5) + ',' + markY + 'H' + (px + 9.5) + 'M' + px + ',' + (markY - 9.5) + 'V' + (markY + 9.5))
            .attr('stroke', '#ff0000').attr('stroke-width', 1.2).attr('fill', 'none');
    }
    marks.append('path').attr('d', 'M' + (px - 5.5) + ',' + markY + 'H' + (px + 5.5) + 'M' + px + ',' + (markY - 5.5) + 'V' + (markY + 5.5))
        .attr('stroke', i === blackStation ? '#000' : '#22cc22').attr('stroke-width', 1.3).attr('fill', 'none');
});
namedStations.forEach(function (idx, i) {
    marks.append('text')
        .attr('transform', 'translate(' + (x(stationKm[idx]) + 4.5) + ',35) rotate(-90)')
        .attr('font-family', '"Liberation Serif", serif')
        .attr('font-size', 15)
        .attr('fill', '#222')
        .text(stationNames[i]);
});

// atlas mark
var mark = svg.append('g').attr('fill', '#9a9a9a').attr('text-anchor', 'middle')
    .attr('font-family', '"DejaVu Sans", sans-serif').attr('font-weight', 'bold').attr('font-size', 12.5);
mark.append('text').attr('x', 224).attr('y', 1236).attr('rotate', '-10 -4 4 10').attr('dy', '1 -1 -1 1').text('WOCE');
mark.append('text').attr('x', 224).attr('y', 1258).text('HYDROGRAPHIC');
mark.append('text').attr('x', 224).attr('y', 1282).attr('rotate', '10 4 -4 -10').attr('dy', '-1 1 1 -1').text('ATLAS');
svg.append('text').attr('x', 223).attr('y', 1309).attr('text-anchor', 'middle')
    .attr('font-family', '"Open Sans", sans-serif').attr('font-size', 21.3).attr('fill', '#777')
    .text('Computer Generated');
</script>
</body>
</html>
